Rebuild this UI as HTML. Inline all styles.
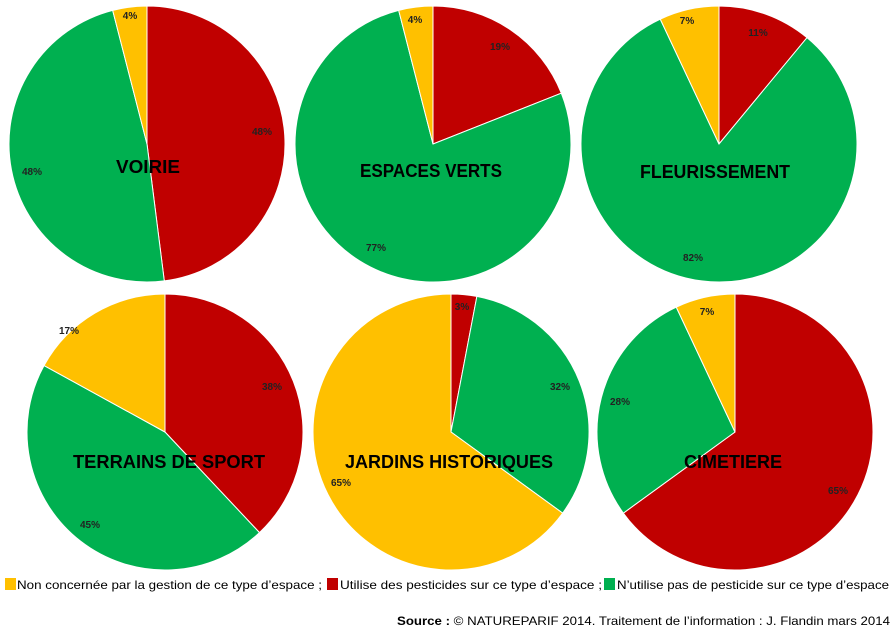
<!DOCTYPE html>
<html><head><meta charset="utf-8"><style>
html,body{margin:0;padding:0;background:#fff;width:895px;height:638px;overflow:hidden}
svg{display:block}
text{font-family:"Liberation Sans",sans-serif}
</style></head><body>
<svg id="s" width="895" height="638" xmlns="http://www.w3.org/2000/svg"></svg>
<script>
var s=document.getElementById('s'),ns='http://www.w3.org/2000/svg',h='';
var pies=[[147,144,[48,48,4]],[433,144,[19,77,4]],[719,144,[11,82,7]],[165,432,[38,45,17]],[451,432,[3,32,65]],[735,432,[65,28,7]]];
var cols=['#C00000','#00B050','#FFC000'],r=138;
pies.forEach(function(p){var a=0;p[2].forEach(function(v,i){var a1=a+v/100*2*Math.PI;
var x0=p[0]+r*Math.sin(a),y0=p[1]-r*Math.cos(a),x1=p[0]+r*Math.sin(a1),y1=p[1]-r*Math.cos(a1);
h+='<path d="M'+p[0]+' '+p[1]+' L'+x0+' '+y0+' A'+r+' '+r+' 0 '+((a1-a)>Math.PI?1:0)+' 1 '+x1+' '+y1+'Z" fill="'+cols[i]+'" stroke="#fff" stroke-width="1"/>';a=a1;});});
var lb=[[130,15,'4%'],[262,131,'48%'],[32,171,'48%'],[415,19,'4%'],[500,46,'19%'],[376,247,'77%'],[687,20,'7%'],[758,32,'11%'],[693,257,'82%'],[69,330,'17%'],[272,386,'38%'],[90,524,'45%'],[462,306,'3%'],[560,386,'32%'],[341,482,'65%'],[707,311,'7%'],[620,401,'28%'],[838,490,'65%']];
lb.forEach(function(l){h+='<text x="'+l[0]+'" y="'+(l[1]+4)+'" font-size="10" font-weight="bold" text-anchor="middle" fill="#222">'+l[2]+'</text>';});
var t=[[148,167,'VOIRIE',64],[431,171,'ESPACES VERTS',142],[715,172,'FLEURISSEMENT',150],[169,462,'TERRAINS DE  SPORT',192],[449,462,'JARDINS HISTORIQUES',208],[733,462,'CIMETIERE',98]];
t.forEach(function(l){h+='<text x="'+l[0]+'" y="'+(l[1]+6)+'" font-size="18" font-weight="bold" text-anchor="middle" textLength="'+l[3]+'" lengthAdjust="spacingAndGlyphs" fill="#000">'+l[2]+'</text>';});
h+='<rect x="5" y="578" width="11" height="12" fill="#FFC000"/><text x="17" y="589" font-size="12" textLength="305" lengthAdjust="spacingAndGlyphs">Non concernée par la gestion de ce type d’espace ;</text>';
h+='<rect x="327" y="578" width="11" height="12" fill="#C00000"/><text x="340" y="589" font-size="12" textLength="262" lengthAdjust="spacingAndGlyphs">Utilise des pesticides sur ce type d’espace ;</text>';
h+='<rect x="604" y="578" width="11" height="12" fill="#00B050"/><text x="617" y="589" font-size="12" textLength="272" lengthAdjust="spacingAndGlyphs">N’utilise pas de pesticide sur ce type d’espace</text>';
h+='<text x="397" y="625" font-size="12" textLength="493" lengthAdjust="spacingAndGlyphs"><tspan font-weight="bold">Source :</tspan> © NATUREPARIF 2014. Traitement de l’information : J. Flandin mars 2014</text>';
s.innerHTML=h;
</script>
</body></html>
